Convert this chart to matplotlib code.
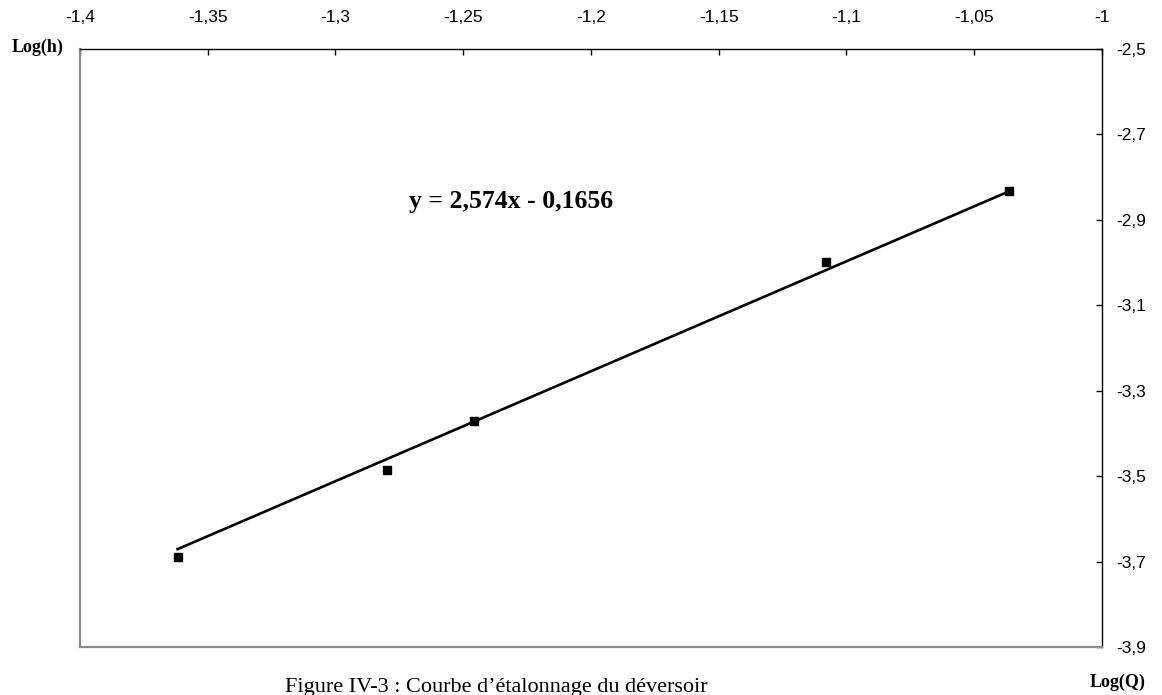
import matplotlib.pyplot as plt
import numpy as np
from matplotlib.ticker import FuncFormatter, FixedLocator

# Measured points
log_q = [-1.3618, -1.2800, -1.2457, -1.1080, -1.0363]
log_h = [-3.689, -3.485, -3.372, -2.998, -2.832]

# Axis ticks
x_ticks = [-1.4, -1.35, -1.3, -1.25, -1.2, -1.15, -1.1, -1.05, -1.0]
y_ticks = [-3.9, -3.7, -3.5, -3.3, -3.1, -2.9, -2.7, -2.5]

# Trend line coefficients (as displayed)
slope = 2.574
intercept = -0.1656
equation_label = "y = 2,574x - 0,1656"
caption = "Figure IV-3 : Courbe d\u2019étalonnage du déversoir"

W, H = 1162, 695
fig = plt.figure(figsize=(W / 100, H / 100), dpi=100)
ax = fig.add_axes([80 / W, 1 - 647 / H, (1102 - 80) / W, (647 - 49) / H])

# Data and trendline
x_fit = np.array([min(log_q), max(log_q)])
ax.plot(x_fit, slope * x_fit + intercept, color='black', lw=1.9, zorder=2)
ax.plot(log_q, log_h, linestyle='none', marker='s', markersize=6,
        color='black', zorder=3)

ax.set_xlim(-1.4, -1.0)
ax.set_ylim(-3.9, -2.5)
ax.xaxis.set_major_locator(FixedLocator(x_ticks))
ax.yaxis.set_major_locator(FixedLocator(y_ticks))


def comma_fmt(v, pos):
    s = ('%.2f' % v).rstrip('0').rstrip('.')
    return s.replace('.', ',')


ax.xaxis.set_major_formatter(FuncFormatter(comma_fmt))
ax.yaxis.set_major_formatter(FuncFormatter(comma_fmt))

ax.xaxis.tick_top()
ax.yaxis.tick_right()
ax.tick_params(axis='x', direction='in', length=4, width=1, pad=17,
               labelsize=12.5, colors='black')
ax.tick_params(axis='y', direction='in', length=4, width=1, pad=10.5,
               labelsize=12.5, colors='black')
for lab in ax.get_xticklabels() + ax.get_yticklabels():
    lab.set_fontfamily('Liberation Sans')

# Spines: axes lines black, plot-area border grey
ax.spines['top'].set_color('black')
ax.spines['right'].set_color('black')
ax.spines['top'].set_linewidth(1.0)
ax.spines['right'].set_linewidth(1.0)
ax.spines['left'].set_color('#8c8c8c')
ax.spines['bottom'].set_color('#8c8c8c')
ax.spines['left'].set_linewidth(1.6)
ax.spines['bottom'].set_linewidth(1.6)

# Equation text
ax.text(-1.2313, -2.858, equation_label, fontsize=18.5, fontweight='bold',
        family='Liberation Serif', ha='center', va='center')

# Axis titles
fig.text(38 / W, 1 - 47 / H, 'Log(h)', fontsize=13, fontweight='bold',
         family='Liberation Serif', ha='center', va='center')
fig.text(1118 / W, 1 - 682 / H, 'Log(Q)', fontsize=13, fontweight='bold',
         family='Liberation Serif', ha='center', va='center')

# Caption (sits at the very bottom edge like the source)
fig.text(496 / W, 1 - 692 / H, caption, fontsize=16,
         family='Liberation Serif', ha='center', va='baseline')

fig.savefig('out.png', dpi=100)
